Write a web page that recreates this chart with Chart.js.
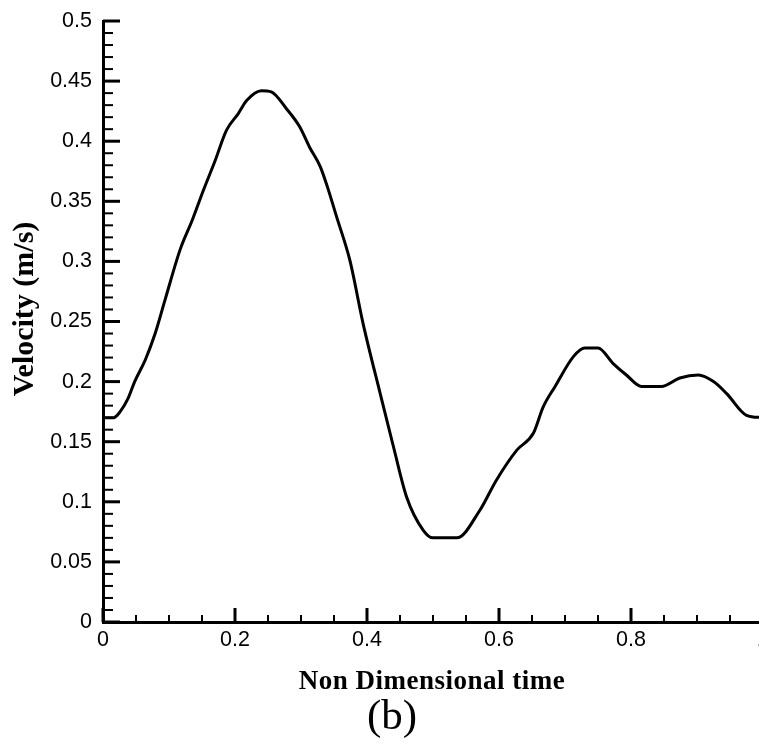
<!DOCTYPE html>
<html>
<head>
<meta charset="utf-8">
<script src="https://cdn.jsdelivr.net/npm/chart.js@4.4.1/dist/chart.umd.min.js"></script>
<style>
  html, body { margin: 0; padding: 0; background: #fff; overflow: hidden; }
  #wrap { position: relative; width: 765px; height: 747px; }
</style>
</head>
<body>
<div id="wrap"><canvas id="velChart"></canvas></div>
<script>
// non dimensional time vs velocity (m/s)
const timeVals = [0.000, 0.016, 0.026, 0.038, 0.048, 0.064, 0.079, 0.094, 0.117, 0.135,
                  0.152, 0.170, 0.187, 0.205, 0.218, 0.240, 0.255, 0.278, 0.298, 0.313,
                  0.329, 0.340, 0.354, 0.374, 0.394, 0.420, 0.440, 0.460, 0.485, 0.500,
                  0.536, 0.571, 0.596, 0.627, 0.652, 0.667, 0.685, 0.713, 0.730, 0.750,
                  0.773, 0.793, 0.816, 0.846, 0.874, 0.902, 0.925, 0.945, 0.975, 1.000];
const velocityVals = [0.170, 0.170, 0.175, 0.186, 0.200, 0.218, 0.240, 0.268, 0.310, 0.334,
                      0.359, 0.384, 0.409, 0.423, 0.434, 0.442, 0.441, 0.427, 0.412, 0.395,
                      0.379, 0.362, 0.337, 0.301, 0.2485, 0.190, 0.146, 0.104, 0.0765, 0.070,
                      0.070, 0.093, 0.118, 0.143, 0.157, 0.179, 0.196, 0.221, 0.228, 0.228,
                      0.215, 0.2055, 0.196, 0.196, 0.203, 0.2055, 0.200, 0.190, 0.172, 0.170];
const xTickStep = 0.2, xMinorStep = 0.05;
const yTickStep = 0.05, yMinorStep = 0.01;

const xTitle = 'Non Dimensional time';
const yTitle = 'Velocity (m/s)';
const panelLabel = '(b)';

const fmt = v => Number(v.toFixed(2)).toString();

// tick marks drawn inward, plus the titles
const innerTicks = {
    id: 'innerTicks',
    afterDraw(chart) {
        const { ctx, scales: { x, y }, chartArea } = chart;
        ctx.save();
        ctx.strokeStyle = '#000';
        ctx.lineCap = 'butt';
        for (let i = 0; i <= Math.round(1 / xMinorStep); i++) {
            const v = i * xMinorStep;
            const major = (i % 4) === 0;
            const px = x.getPixelForValue(v);
            ctx.lineWidth = major ? 3 : 2;
            ctx.beginPath();
            ctx.moveTo(px, chartArea.bottom);
            ctx.lineTo(px, chartArea.bottom - (major ? 14 : 7));
            ctx.stroke();
        }
        for (let i = 0; i <= Math.round(0.5 / yMinorStep); i++) {
            const v = i * yMinorStep;
            const major = (i % 5) === 0;
            const py = y.getPixelForValue(v);
            ctx.lineWidth = major ? 3 : 2;
            ctx.beginPath();
            ctx.moveTo(chartArea.left, py);
            ctx.lineTo(chartArea.left + (major ? 17 : 10), py);
            ctx.stroke();
        }

        ctx.fillStyle = '#000';
        ctx.textAlign = 'center';
        ctx.textBaseline = 'middle';
        ctx.letterSpacing = '0.5px';
        ctx.font = 'bold 27px "Liberation Serif", "Times New Roman", serif';
        ctx.fillText(xTitle, 432, 682);
        ctx.letterSpacing = '0px';
        ctx.font = '43px "Liberation Serif", "Times New Roman", serif';
        ctx.fillText(panelLabel, 392, 718);

        ctx.translate(25, 309);
        ctx.rotate(-Math.PI / 2);
        ctx.font = 'bold 30px "Liberation Serif", "Times New Roman", serif';
        ctx.fillText(yTitle, 0, 0);
        ctx.restore();
    }
};

const ctx = document.getElementById('velChart').getContext('2d');
const myChart = new Chart(ctx, {
    type: 'scatter',
    data: {
        datasets: [{
            data: timeVals.map((t, i) => ({ x: t, y: velocityVals[i] })),
            showLine: true,
            borderColor: '#000',
            borderWidth: 3,
            pointRadius: 0,
            cubicInterpolationMode: 'monotone',
            fill: false
        }]
    },
    options: {
        responsive: true,
        maintainAspectRatio: false,
        animation: false,
        layout: { padding: { top: 21, right: 2, left: 0, bottom: 0 } },
        plugins: {
            legend: { display: false },
            tooltip: { enabled: false }
        },
        scales: {
            x: {
                type: 'linear',
                min: 0,
                max: 1,
                grid: { display: false, drawTicks: false },
                border: { display: true, color: '#000', width: 3 },
                ticks: {
                    stepSize: xTickStep,
                    color: '#000',
                    padding: 5,
                    maxRotation: 0,
                    font: { family: '"Liberation Sans", Arial, sans-serif', size: 21.5 },
                    callback: v => fmt(v)
                },
                afterFit: s => { s.height = 125; s.paddingLeft = 0; s.paddingRight = 0; }
            },
            y: {
                min: 0,
                max: 0.5,
                grid: { display: false, drawTicks: false },
                border: { display: true, color: '#000', width: 3 },
                ticks: {
                    stepSize: yTickStep,
                    color: '#000',
                    padding: 11,
                    font: { family: '"Liberation Sans", Arial, sans-serif', size: 21.5 },
                    callback: v => fmt(v)
                },
                afterFit: s => { s.width = 103; s.paddingTop = 0; s.paddingBottom = 0; }
            }
        }
    },
    plugins: [innerTicks]
});
</script>
</body>
</html>
